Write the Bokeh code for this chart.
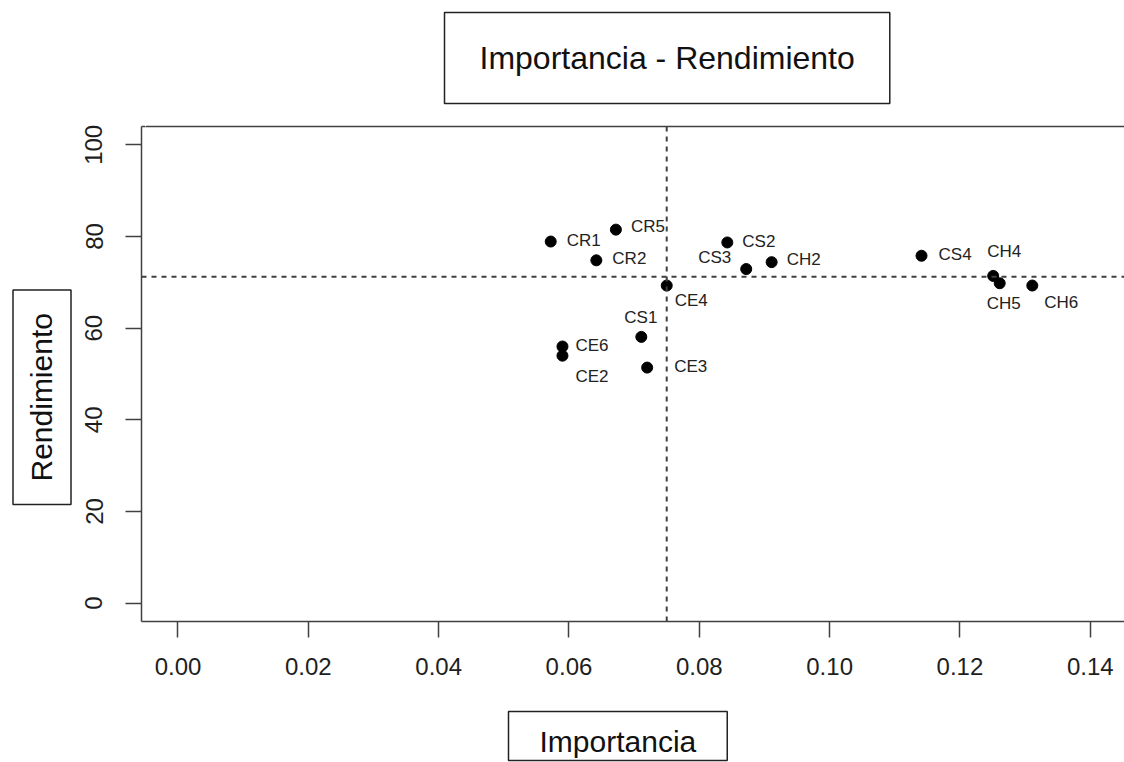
import math
from bokeh.plotting import figure
from bokeh.models import (ColumnDataSource, Range1d, FixedTicker, LinearAxis, Span, Title,
                          NumeralTickFormatter)
from bokeh.embed import file_html
from bokeh.resources import INLINE
from bokeh.core.properties import value

# ---- data ----
codes = ["CR1", "CR5", "CR2", "CS2", "CS3", "CH2", "CE4", "CS1", "CE6", "CE2", "CE3",
         "CS4", "CH4", "CH5", "CH6"]
importancia = [0.0572, 0.0672, 0.0642, 0.0843, 0.0872, 0.0911, 0.0750, 0.0711, 0.0590,
               0.0590, 0.0720, 0.1141, 0.1251, 0.1261, 0.1311]
rendimiento = [78.9, 81.5, 74.8, 78.7, 72.9, 74.4, 69.3, 58.1, 56.0, 54.0, 51.4,
               75.8, 71.4, 69.8, 69.3]
ref_importancia = 0.075
ref_rendimiento = 71.2
x_ticks = [0.00, 0.02, 0.04, 0.06, 0.08, 0.10, 0.12, 0.14]
y_ticks = [0, 20, 40, 60, 80, 100]
title_text = "Importancia - Rendimiento"
x_title = "Importancia"
y_title = "Rendimiento"

# ---- label placement (style, pixels) ----
label_dx = [16, 15, 16, 15, -48, 15, 8, -17, 13, 13, 27, 17, -6, -13, 12]
label_dy = [-1.5, -3, -2, -1, -12, -2.6, 15, -19.5, -1, 20.7, -1.4, -1, -24, 20, 17]

FONT = "Liberation Sans"
LINE = "#404040"

src = ColumnDataSource(dict(x=importancia, y=rendimiento, code=codes,
                            dx=label_dx, dy=label_dy))

p = figure(width=1124, height=762,
           x_range=Range1d(-0.0056, 0.14525), y_range=Range1d(-4, 104),
           output_backend="svg", toolbar_location=None,
           min_border_left=141, min_border_right=0,
           min_border_top=126, min_border_bottom=141)
p.grid.visible = False
p.outline_line_color = None
p.background_fill_color = "white"
p.border_fill_color = "white"

p.xaxis.ticker = FixedTicker(ticks=x_ticks)
p.yaxis.ticker = FixedTicker(ticks=y_ticks)
p.xaxis.formatter = NumeralTickFormatter(format="0.00")
p.yaxis.major_label_orientation = "parallel"

for ax in (p.xaxis[0], p.yaxis[0]):
    ax.axis_line_color = LINE
    ax.axis_line_width = 1.5
    ax.major_tick_line_color = LINE
    ax.major_tick_line_width = 1.5
    ax.major_tick_out = 16
    ax.major_tick_in = 0
    ax.minor_tick_line_color = None
    ax.major_label_text_font = FONT
    ax.major_label_text_font_size = "24px"
    ax.major_label_text_color = "#1e1e1e"
p.xaxis.major_label_standoff = 20
p.yaxis.major_label_standoff = 23


def spacer(gap, tick, line_color=None):
    # an empty axis whose (white, invisible) tick only reserves room in the border
    return LinearAxis(ticker=FixedTicker(ticks=[tick]), axis_line_color=line_color,
                      axis_line_width=1.5, major_tick_line_color="white",
                      major_tick_line_width=1,
                      minor_tick_line_color=None, major_tick_out=gap, major_tick_in=0,
                      minor_tick_out=0, minor_tick_in=0, major_label_standoff=0,
                      major_label_text_font_size="0px", major_label_text_color=None)


# top spacer doubles as the upper border of the box
p.add_layout(spacer(23, -0.005, LINE), "above")
p.add_layout(spacer(34, -0.005), "below")

# reference lines
p.add_layout(Span(location=ref_importancia, dimension="height", line_color=LINE,
                  line_width=2, line_dash="5 5"))
p.add_layout(Span(location=ref_rendimiento, dimension="width", line_color=LINE,
                  line_width=2, line_dash="5 5"))

# points and labels
p.scatter("x", "y", source=src, size=11, color="black")
p.text("x", "y", text="code", source=src, x_offset="dx", y_offset="dy",
       text_font=value(FONT), text_font_size="17px", text_color="#222222",
       text_align="left", text_baseline="middle")

# boxed titles
box_style = dict(text_font=FONT, text_color="#111111", text_font_style="normal",
                 border_line_color="#222222", border_line_width=1.5,
                 background_fill_color="white", standoff=0)
p.add_layout(Title(text=title_text, align="left", offset=303, vertical_align="bottom",
                   text_font_size="32px",
                   padding=dict(left=35, right=35, top=27, bottom=28), **box_style), "above")
p.add_layout(Title(text=x_title, align="left", offset=367, vertical_align="top",
                   text_font_size="30px",
                   padding=dict(left=31, right=31, top=13, bottom=3), **box_style), "below")
p.add_layout(Title(text=y_title, align="left", offset=117, vertical_align="middle",
                   text_font_size="30px",
                   padding=dict(left=23, right=23, top=12, bottom=13), **box_style), "left")

open("out.html", "w").write(file_html(p, INLINE))
